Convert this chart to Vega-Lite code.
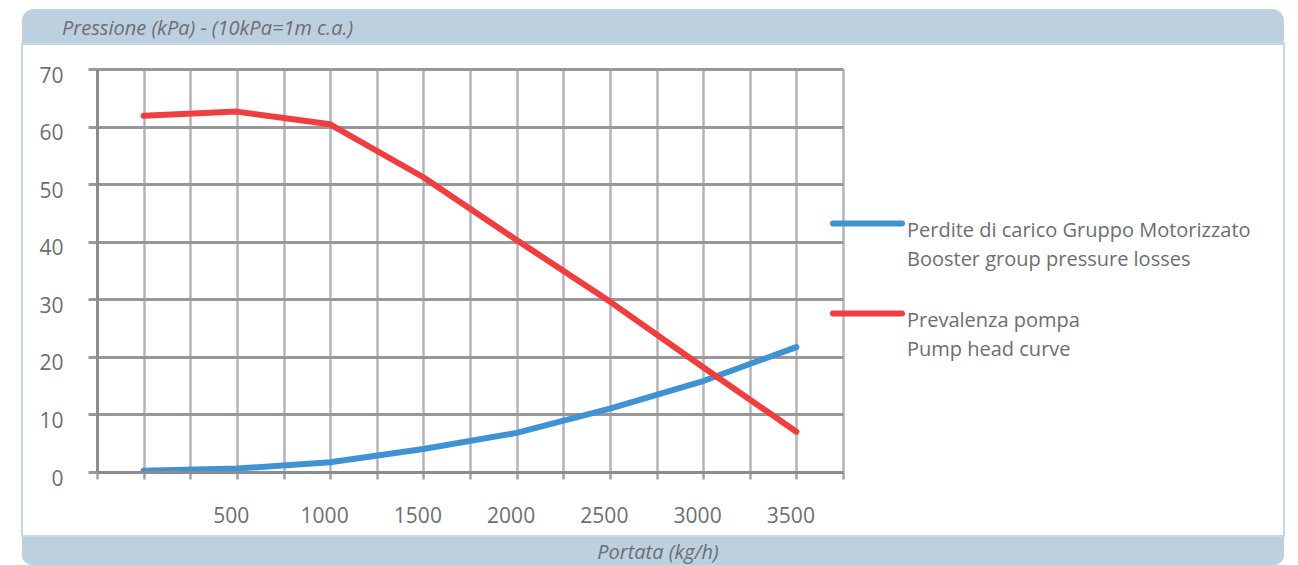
{
  "$schema": "https://vega.github.io/schema/vega-lite/v6.json",
  "padding": {"left": 21, "top": 9, "right": 10, "bottom": 0},
  "background": "white",
  "spacing": 0,
  "config": {
    "font": "Open Sans",
    "view": {"stroke": null}
  },
  "vconcat": [
    {
      "width": 1262,
      "height": 34,
      "data": {"values": [{"band": "header"}]},
      "mark": {"type": "rect", "color": "#bdd0df", "cornerRadiusTopLeft": 12, "cornerRadiusTopRight": 12},
      "encoding": {},
      "title": {
        "text": "Pressione (kPa) - (10kPa=1m c.a.)",
        "orient": "top",
        "anchor": "start",
        "frame": "group",
        "offset": -30,
        "dx": 40,
        "font": "Open Sans",
        "fontSize": 20,
        "fontStyle": "italic",
        "fontWeight": "normal",
        "color": "#6d6e71"
      }
    },
    {
      "width": 1262,
      "height": 492,
      "view": {"fill": "white", "stroke": "#c6d7e5", "strokeWidth": 2},
      "data": {
        "values": [
          {"portata": 0, "pressione": 0.2, "serie": "Perdite di carico Gruppo Motorizzato|Booster group pressure losses"},
          {"portata": 500, "pressione": 0.6, "serie": "Perdite di carico Gruppo Motorizzato|Booster group pressure losses"},
          {"portata": 1000, "pressione": 1.7, "serie": "Perdite di carico Gruppo Motorizzato|Booster group pressure losses"},
          {"portata": 1500, "pressione": 4.0, "serie": "Perdite di carico Gruppo Motorizzato|Booster group pressure losses"},
          {"portata": 2000, "pressione": 6.8, "serie": "Perdite di carico Gruppo Motorizzato|Booster group pressure losses"},
          {"portata": 2500, "pressione": 11.0, "serie": "Perdite di carico Gruppo Motorizzato|Booster group pressure losses"},
          {"portata": 3000, "pressione": 15.8, "serie": "Perdite di carico Gruppo Motorizzato|Booster group pressure losses"},
          {"portata": 3500, "pressione": 21.7, "serie": "Perdite di carico Gruppo Motorizzato|Booster group pressure losses"},
          {"portata": 0, "pressione": 61.9, "serie": "Prevalenza pompa|Pump head curve"},
          {"portata": 500, "pressione": 62.6, "serie": "Prevalenza pompa|Pump head curve"},
          {"portata": 1000, "pressione": 60.4, "serie": "Prevalenza pompa|Pump head curve"},
          {"portata": 1500, "pressione": 51.2, "serie": "Prevalenza pompa|Pump head curve"},
          {"portata": 2000, "pressione": 40.3, "serie": "Prevalenza pompa|Pump head curve"},
          {"portata": 2500, "pressione": 29.6, "serie": "Prevalenza pompa|Pump head curve"},
          {"portata": 3000, "pressione": 18.2, "serie": "Prevalenza pompa|Pump head curve"},
          {"portata": 3500, "pressione": 7.0, "serie": "Prevalenza pompa|Pump head curve"}
        ]
      },
      "encoding": {
        "y": {
          "field": "pressione",
          "type": "quantitative",
          "scale": {"domain": [0, 70], "range": [428, 25], "nice": false},
          "axis": {
            "title": null,
            "orient": "left",
            "offset": -75,
            "values": [0, 10, 20, 30, 40, 50, 60, 70],
            "labelFont": "Open Sans",
            "labelFontSize": 21,
            "labelColor": "#6d6e71",
            "labelPadding": 25,
            "labelOffset": 7,
            "labelFlush": false,
            "labelOverlap": false,
            "grid": true,
            "gridColor": "#98989c",
            "gridWidth": 3,
            "domainColor": "#8d8d91",
            "domainWidth": 3,
            "ticks": true,
            "tickSize": 9,
            "tickColor": "#98989c",
            "tickWidth": 3,
            "zindex": 0
          }
        },
        "color": {
          "field": "serie",
          "type": "nominal",
          "scale": {
            "domain": ["Perdite di carico Gruppo Motorizzato|Booster group pressure losses", "Prevalenza pompa|Pump head curve"],
            "range": ["#3f93d2", "#ef3d40"]
          },
          "legend": {
            "title": null,
            "orient": "none",
            "legendX": 808,
            "legendY": 177,
            "symbolType": "stroke",
            "symbolSize": 4761,
            "symbolStrokeWidth": 6,
            "labelExpr": "split(datum.label, '|')",
            "labelFont": "Open Sans",
            "labelFontSize": 20,
            "labelColor": "#6d6e71",
            "labelLimit": 600,
            "labelOffset": 2,
            "labelBaseline": "top",
            "rowPadding": 6,
            "encode": {
              "labels": {"update": {"lineHeight": {"value": 29}, "dy": {"value": -3}}},
              "symbols": {"update": {"strokeCap": {"value": "round"}}}
            }
          }
        }
      },
      "layer": [
        {
          "transform": [{"filter": "datum.serie == 'Perdite di carico Gruppo Motorizzato|Booster group pressure losses'"}],
          "mark": {"type": "line", "strokeWidth": 6, "strokeCap": "round", "strokeJoin": "round"},
          "encoding": {
            "x": {
              "field": "portata",
              "type": "quantitative",
              "scale": {"domain": [-250, 3750], "range": [75, 821], "nice": false, "zero": false},
              "axis": {
                "title": null,
                "orient": "bottom",
                "offset": -64,
                "values": [-250, 0, 250, 500, 750, 1000, 1250, 1500, 1750, 2000, 2250, 2500, 2750, 3000, 3250, 3500, 3750],
                "format": "d",
                "labelExpr": "datum.value >= 500 && datum.value % 500 == 0 ? datum.label : ''",
                "labelFont": "Open Sans",
                "labelFontSize": 21,
                "labelColor": "#6d6e71",
                "labelPadding": 26,
                "labelOffset": -6,
                "labelBaseline": "top",
                "labelFlush": false,
                "labelOverlap": false,
                "grid": false,
                "domainColor": "#8d8d91",
                "domainWidth": 3,
                "ticks": true,
                "tickSize": 7,
                "tickColor": "#a3a3a7",
                "tickWidth": 2.5,
                "zindex": 1
              }
            }
          }
        },
        {
          "transform": [{"filter": "datum.serie == 'Prevalenza pompa|Pump head curve'"}],
          "mark": {"type": "line", "strokeWidth": 6, "strokeCap": "round", "strokeJoin": "round"},
          "encoding": {
            "x": {
              "field": "portata",
              "type": "quantitative",
              "scale": {"domain": [-250, 3750], "range": [75, 821], "nice": false, "zero": false},
              "axis": {
                "title": null,
                "orient": "top",
                "values": [-250, 0, 250, 500, 750, 1000, 1250, 1500, 1750, 2000, 2250, 2500, 2750, 3000, 3250, 3500, 3750],
                "labels": false,
                "ticks": false,
                "domain": false,
                "grid": true,
                "gridColor": "#b5b5b9",
                "gridWidth": 2.5,
                "zindex": 0
              }
            }
          }
        }
      ],
      "resolve": {"axis": {"x": "independent"}}
    },
    {
      "width": 1262,
      "height": 28,
      "data": {"values": [{"band": "footer"}]},
      "mark": {"type": "rect", "color": "#bdd0df", "cornerRadiusBottomLeft": 10, "cornerRadiusBottomRight": 10},
      "encoding": {},
      "title": {
        "text": "Portata (kg/h)",
        "orient": "top",
        "anchor": "middle",
        "frame": "group",
        "offset": -26,
        "dx": 5,
        "font": "Open Sans",
        "fontSize": 20,
        "fontStyle": "italic",
        "fontWeight": "normal",
        "color": "#6d6e71"
      }
    }
  ]
}
